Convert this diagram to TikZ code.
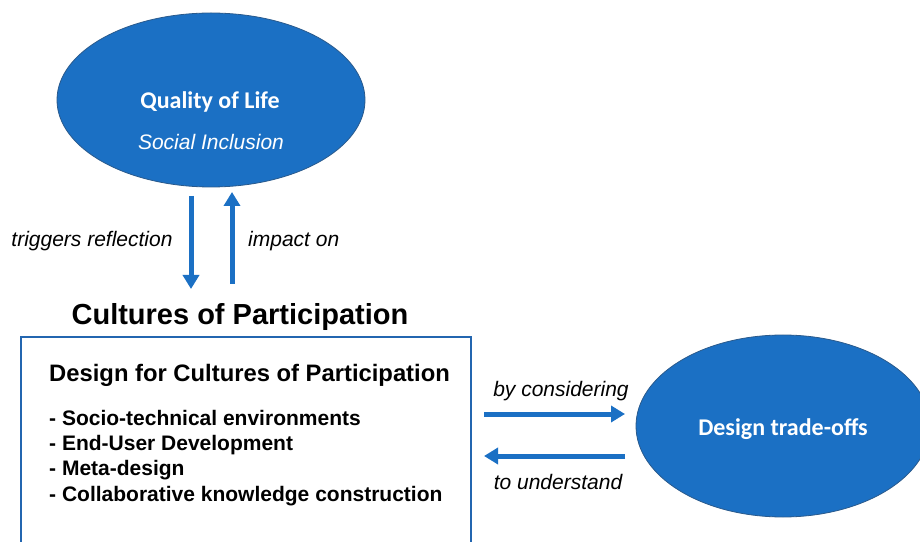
\documentclass[tikz,border=0pt]{standalone}
\usepackage{fontspec}
\setmainfont{Liberation Sans}
\newfontfamily\calib{Carlito}
\usetikzlibrary{arrows.meta,shapes.geometric}
\definecolor{fillblue}{HTML}{1B70C4}
\definecolor{edgeblue}{HTML}{2A5A8C}
\definecolor{boxblue}{HTML}{2366B0}
\definecolor{arrowblue}{HTML}{1B70C4}
\tikzset{
  blob/.style={ellipse, fill=fillblue, draw=edgeblue, line width=0.8pt, inner sep=0pt},
  fatarrow/.style={draw=arrowblue, line width=5pt, -{Triangle[width=16pt,length=14pt]}},
  lbl/.style={font=\fontsize{21}{24}\selectfont\itshape, inner sep=0pt},
}
\begin{document}
\begin{tikzpicture}[x=1pt,y=1pt]
\useasboundingbox (0,0) rectangle (920,541);
\begin{scope}
\clip (0,0) rectangle (920,541);
% top ellipse
\node[blob, minimum width=308pt, minimum height=174pt] (qol) at (211,441) {};
\node[font=\calib\bfseries\fontsize{24}{28}\selectfont, text=white, inner sep=0pt] (qoltxt) at (210,439) {Quality of Life};
\node[font=\fontsize{21}{24}\selectfont\itshape, text=white, inner sep=0pt] (soc) at (211,399) {Social Inclusion};
% right ellipse
\node[blob, minimum width=294pt, minimum height=182pt] (dto) at (783,115) {};
\node[font=\calib\bfseries\fontsize{24}{28}\selectfont, text=white, inner sep=0pt] (dtotxt) at (783,112) {Design trade-offs};
% box
\draw[boxblue, line width=1.2pt] (21,-5) -- (21,204) -- (471,204) -- (471,-5);
\node[font=\bfseries\fontsize{29}{34}\selectfont, inner sep=0pt] (cop) at (240,224) {Cultures of Participation};
\node[font=\bfseries\fontsize{23.8}{28}\selectfont, anchor=west, inner sep=0pt] (dfc) at (49,166) {Design for Cultures of Participation};
\node[font=\bfseries\fontsize{21}{25.2}\selectfont, anchor=north west, align=left, inner sep=0pt] (items) at (49,131)
  {- Socio-technical environments\\- End-User Development\\- Meta-design\\- Collaborative knowledge construction};
% vertical arrows
\coordinate (d1) at (191,345);
\coordinate (d2) at (191,252);
\coordinate (u1) at (232,257);
\coordinate (u2) at (232,349);
\draw[fatarrow] (d1) -- (d2);
\draw[fatarrow] (u1) -- (u2);
\node[lbl] (trig) at (92,300) {triggers reflection};
\node[lbl, anchor=west] (imp) at (248,300) {impact on};
% horizontal arrows
\coordinate (r1) at (484,127);
\coordinate (r2) at (625,127);
\coordinate (l1) at (625,85);
\coordinate (l2) at (484,85);
\draw[fatarrow] (r1) -- (r2);
\draw[fatarrow] (l1) -- (l2);
\node[lbl] (byc) at (561,150) {by considering};
\node[lbl] (tou) at (558,59) {to understand};
\end{scope}
\end{tikzpicture}
\end{document}
